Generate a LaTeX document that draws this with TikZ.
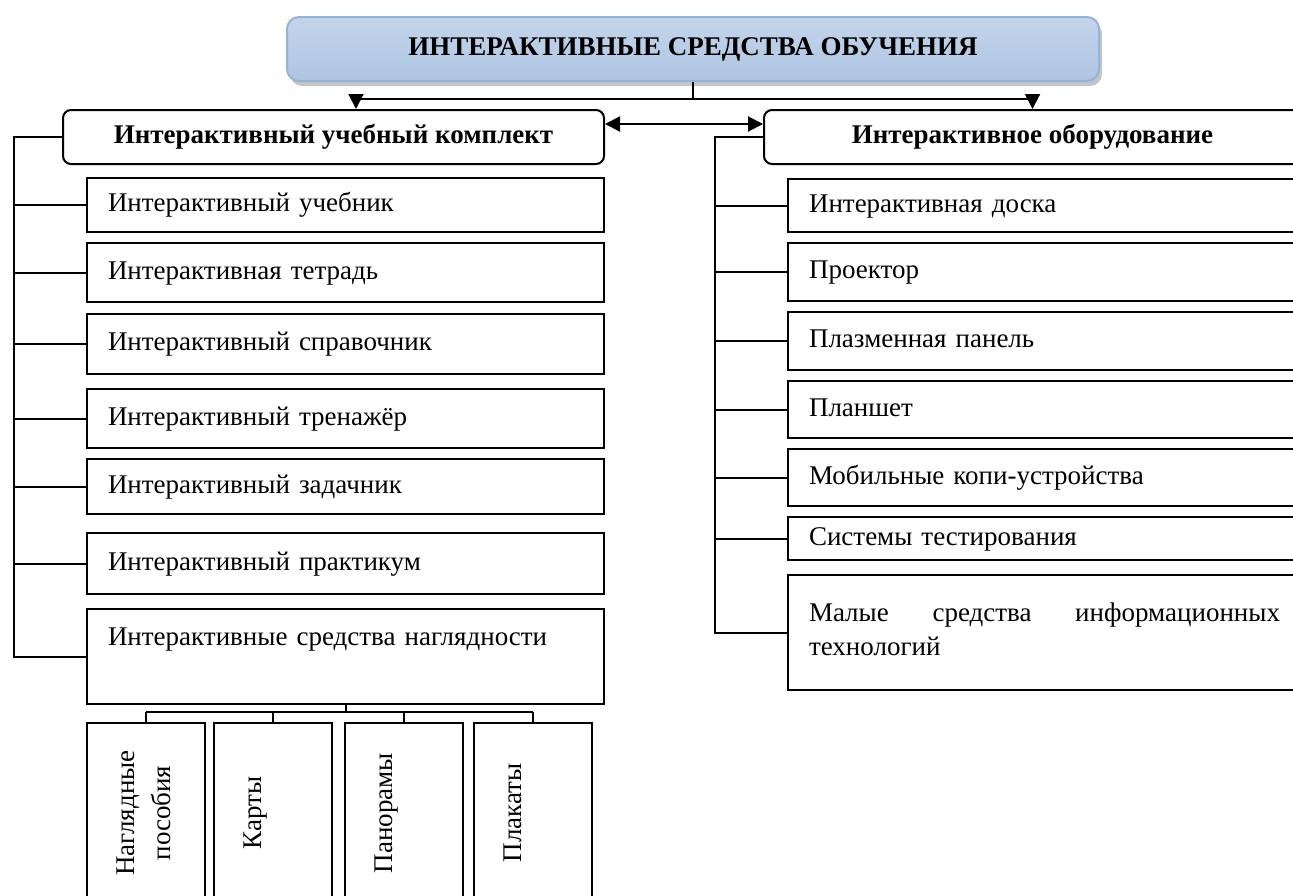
\documentclass[tikz,border=0pt]{standalone}
\usepackage{fontspec}
\setmainfont{Liberation Serif}
\usetikzlibrary{arrows.meta,shadows}
\hyphenpenalty=10000

\definecolor{titleedge}{RGB}{149,179,215}
\definecolor{titletop}{RGB}{196,213,235}
\definecolor{titlemid}{RGB}{228,235,245}
\definecolor{titlebot}{RGB}{174,197,226}

\tikzset{
  wire/.style={line width=1pt},
  tip/.style={-{Triangle[length=7.5pt,width=7.5pt]}},
  twotip/.style={{Triangle[length=7.5pt,width=7.5pt]}-{Triangle[length=7.5pt,width=7.5pt]}},
  headbox/.style={draw, line width=1pt, rounded corners=4pt, fill=white, anchor=north west,
    font=\fontsize{13.5}{16}\selectfont\bfseries, align=center},
  itembox/.style={draw, line width=1pt, anchor=north west, inner xsep=10.5pt,
    text height=9.5pt, text depth=3pt, font=\fontsize{13.5}{17}\selectfont, align=left},
  subbox/.style={draw, line width=1pt, rotate=90, anchor=north east, inner sep=0pt,
    minimum width=90pt, minimum height=59pt, text width=90pt, text height=23.5pt, text depth=35.5pt,
    font=\fontsize{13.5}{18}\selectfont, align=center}
}

\begin{document}
\begin{tikzpicture}[x=0.5pt, y=-0.5pt]
      \useasboundingbox (0,0) rectangle (1293,895);
      \clip (0,0) rectangle (1293,895);

      \node[draw=titleedge, line width=1pt, rounded corners=6pt, top color=titletop, middle color=titlemid,
        bottom color=titlebot, drop shadow={shadow xshift=1.5pt, shadow yshift=-2.5pt, fill=black!45},
        anchor=north west, minimum width=406pt, minimum height=32pt,
        font=\fontsize{13.5}{16}\selectfont\bfseries] (title) at (286,16) {ИНТЕРАКТИВНЫЕ СРЕДСТВА ОБУЧЕНИЯ};

      \node[headbox, minimum width=270.5pt, minimum height=27pt] (kit) at (62,109) {Интерактивный учебный комплект};
      \node[headbox, minimum width=268.5pt, minimum height=27pt] (equip) at (763,109) {Интерактивное оборудование};

      \node[itembox, text width=237.5pt, minimum height=27pt] (k1) at (86,177) {Интерактивный учебник};
      \node[itembox, text width=237.5pt, minimum height=29.5pt] (k2) at (86,242) {Интерактивная тетрадь};
      \node[itembox, text width=237.5pt, minimum height=30pt] (k3) at (86,313) {Интерактивный справочник};
      \node[itembox, text width=237.5pt, minimum height=29.5pt] (k4) at (86,388) {Интерактивный тренажёр};
      \node[itembox, text width=237.5pt, minimum height=27.5pt] (k5) at (86,458) {Интерактивный задачник};
      \node[itembox, text width=237.5pt, minimum height=30.5pt] (k6) at (86,532) {Интерактивный практикум};
      \node[itembox, text width=237.5pt, inner ysep=0pt, text height=18pt, text depth=29.5pt] (k7) at (86,608) {Интерактивные средства наглядности};

      \node[itembox, text width=235.5pt, minimum height=26.5pt] (e1) at (787,178) {Интерактивная доска};
      \node[itembox, text width=235.5pt, minimum height=29pt] (e2) at (787,242) {Проектор};
      \node[itembox, text width=235.5pt, minimum height=29pt] (e3) at (787,311) {Плазменная панель};
      \node[itembox, text width=235.5pt, minimum height=28.5pt] (e4) at (787,380) {Планшет};
      \node[itembox, text width=235.5pt, minimum height=28.5pt] (e5) at (787,448) {Мобильные копи-устройства};
      \node[itembox, text width=235.5pt, minimum height=21.5pt] (e6) at (787,516) {Системы тестирования};
      \node[itembox, text width=235.5pt, inner ysep=0pt, text height=23pt, text depth=34.5pt, align=justify] (e7) at (787,574) {Малые средства информационных технологий};

      \node[subbox] (v1) at (86,722) {Наглядные\\пособия};
      \node[subbox] (v2) at (213,722) {Карты};
      \node[subbox] (v3) at (344,722) {Панорамы};
      \node[subbox] (v4) at (473,722) {Плакаты};

      \coordinate (kbus) at (14,0);
      \coordinate (ebus) at (715,0);
      \coordinate (vbus) at (0,712);

      \draw[wire] (title.south) -- ++(0,17) coordinate (split);
      \draw[wire, tip] (split) -| ([xshift=11.25pt]kit.north);
      \draw[wire, tip] (split) -| (equip.north);
      \draw[wire, twotip] ([yshift=6.5pt]kit.east) -- ([yshift=6.5pt]equip.west);

      \draw[wire] (kit.west) -- (kit.west -| kbus) |- (k7.west);
      \path [wire] (k1.west) edge (k1.west -| kbus);
      \path [wire] (k2.west) edge (k2.west -| kbus);
      \path [wire] (k3.west) edge (k3.west -| kbus);
      \path [wire] (k4.west) edge (k4.west -| kbus);
      \path [wire] (k5.west) edge (k5.west -| kbus);
      \path [wire] (k6.west) edge (k6.west -| kbus);

      \draw[wire] (equip.west) -- (equip.west -| ebus) |- (e7.west);
      \path [wire] (e1.west) edge (e1.west -| ebus);
      \path [wire] (e2.west) edge (e2.west -| ebus);
      \path [wire] (e3.west) edge (e3.west -| ebus);
      \path [wire] (e4.west) edge (e4.west -| ebus);
      \path [wire] (e5.west) edge (e5.west -| ebus);
      \path [wire] (e6.west) edge (e6.west -| ebus);

      \draw[wire] (k7.south) -- (k7.south |- vbus);
      \draw[wire] (v1.east |- vbus) -- (v4.east |- vbus);
      \path [wire] (v1.east) edge (v1.east |- vbus);
      \path [wire] (v2.east) edge (v2.east |- vbus);
      \path [wire] (v3.east) edge (v3.east |- vbus);
      \path [wire] (v4.east) edge (v4.east |- vbus);
    \end{tikzpicture}
\end{document}
